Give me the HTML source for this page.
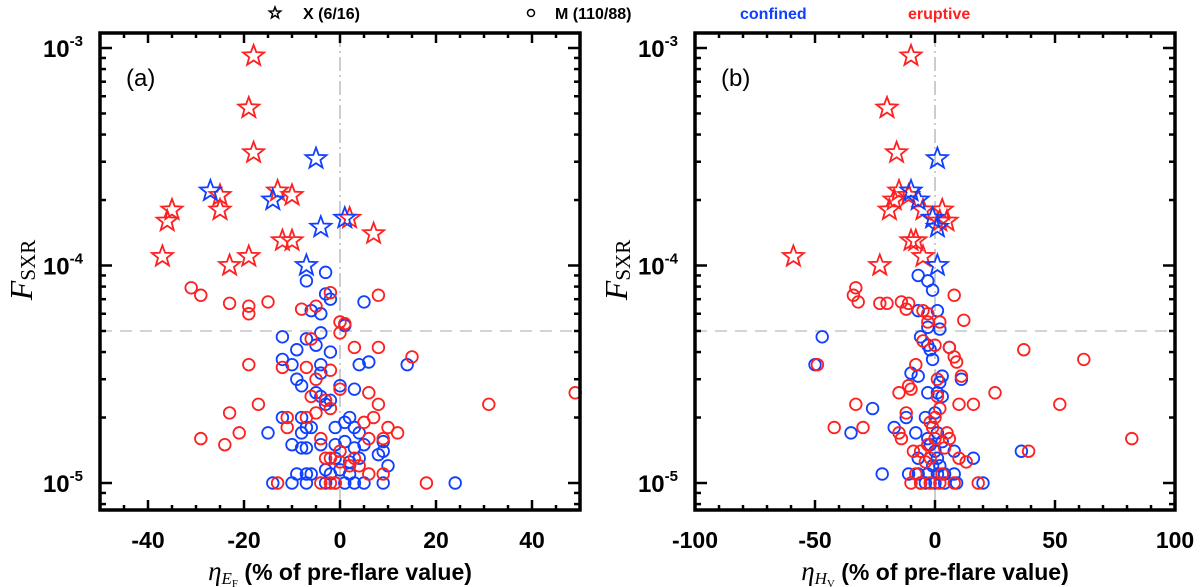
<!DOCTYPE html>
<html><head><meta charset="utf-8"><style>
html,body{margin:0;padding:0;background:#fff;}
svg{display:block;font-family:"Liberation Sans",sans-serif;}
</style></head><body>
<svg id="fig" width="1200" height="587" viewBox="0 0 1200 587">
<g font-weight="bold" font-size="16">
  <polygon points="" id="legstar" fill="none" stroke="#000" stroke-width="1.5"/>
  <text x="303" y="19">X (6/16)</text>
  <circle cx="531" cy="13" r="3.5" fill="none" stroke="#000" stroke-width="1.5"/>
  <text x="555" y="19">M (110/88)</text>
  <text x="740" y="19" fill="#1040ff">confined</text>
  <text x="908" y="19" fill="#ff2020">eruptive</text>
</g>
<g id="pa"></g>
<g id="pb"></g>
</svg>
<script>
// Panel a data: x = eta_EF (%), F in units of 1e-5
const aStarRedX=[-18,-19,-18,-35,-36,-37,-25,-25,-23,-19,-13,-10,-12,-10,2,7];
const aStarRedF=[92,53,33,18,16,11,21,18,10,11,22,21,13,13,16.5,14];
const aStarBlueX=[-27,-14,-5,-4,1,-7];
const aStarBlueF=[22,20,31,15,16.5,10];
const aCircRedX=[-31,-29,-23,-19,-19,-15,-8,-5,-2,0,1,0,3,-6,8,8,15,-19,-12,-7,-5,-2,0,-17,-23,-21,-29,-24,-11,-11,-7,-6,-3,-2,6,8,7,5,10,12,6,9,-3,-2,0,4,6,9,-4,-2,-1,-13,18,31,49,-4,0,3,-5,2];
const aCircRedF=[7.9,7.3,6.7,6.5,6.0,6.8,6.3,6.5,7.5,5.5,5.4,4.9,4.2,4.6,7.3,4.2,3.8,3.5,3.4,3.4,3.0,3.3,2.7,2.3,2.1,1.7,1.6,1.5,2.0,1.8,2.0,2.5,2.4,2.2,2.6,2.3,2.0,1.9,1.8,1.7,1.6,1.6,1.3,1.3,1.25,1.2,1.1,1.1,1.0,1.0,1.0,1.0,1.0,2.3,2.6,1.6,1.4,1.3,2.1,1.2];
const aCircBlueX=[-7,-3,-2,-3,-4,5,-6,1,-4,-12,-7,-5,-2,-9,-4,-12,-10,-4,4,6,14,-9,-8,0,3,-5,-4,-2,-3,-12,-8,-7,-15,-8,-6,-1,1,2,3,4,-10,-8,-7,-4,-1,1,3,5,9,9,8,10,-9,-7,-6,-3,-2,0,2,-14,-10,-7,-3,-1,1,3,5,9,24,4,-1,2];
const aCircBlueF=[8.5,9.3,7.0,7.4,6.0,6.8,6.2,5.3,4.9,4.7,4.6,4.3,4.0,4.1,3.5,3.7,3.5,3.2,3.5,3.6,3.5,3.0,2.8,2.8,2.7,2.6,2.5,2.4,2.3,2.0,2.0,1.8,1.7,1.7,1.8,1.8,1.9,2.0,1.8,1.7,1.5,1.45,1.45,1.5,1.5,1.55,1.45,1.5,1.55,1.4,1.35,1.2,1.1,1.1,1.1,1.15,1.1,1.15,1.1,1.0,1.0,1.0,1.0,1.0,1.0,1.0,1.0,1.0,1.0,1.3,1.3,1.25];
const aXTicks=[-40,-20,0,20,40];
// Panel b data: x = eta_HV (%)
const bStarRedX=[-10,-20,-16,-15,-17,-19,-11,-5,-10,-8,-59,-23,-5,3,5,2];
const bStarRedF=[92,53,33,22,20,18,21,18,13,13,11,10,11,18,16,16];
const bStarBlueX=[-10,-7,1,1,-1,1];
const bStarBlueF=[22,20,31,15,16.5,10];
const bCircRedX=[-33,-34,-32,-23,-20,-14,-12,-11,-5,-3,8,2,-3,12,-5,0,6,8,9,37,62,-49,1,11,-8,-11,-10,-15,25,-33,10,16,52,-12,-42,-30,-15,-14,5,6,82,-9,-6,39,10,13,-4,-2,-10,-6,-2,2,8,18,-8,3,0,-2,0,1,-3,4,-1,2];
const bCircRedF=[7.9,7.3,6.8,6.7,6.7,6.8,6.3,6.7,6.2,6.0,7.3,5.5,5.5,5.6,4.5,4.3,4.2,3.8,3.6,4.1,3.7,3.5,3.0,3.1,3.5,2.8,2.7,2.6,2.6,2.3,2.3,2.3,2.3,2.1,1.8,1.8,1.7,1.6,1.7,1.6,1.6,1.4,1.4,1.4,1.3,1.25,1.25,1.3,1.0,1.0,1.0,1.0,1.0,1.0,1.1,1.1,1.6,1.9,2.0,2.5,1.5,1.45,1.8,2.2];
const bCircBlueX=[-7,-3,-1,-7,1,-3,2,-47,-6,-3,-2,6,-50,-1,-10,-7,3,11,2,1,-3,3,-26,-12,-4,0,-17,-35,-8,-3,1,3,8,16,-7,36,-22,-11,-7,-3,1,4,8,-6,-4,0,4,9,20,0,2,-2,1,-1];
const bCircBlueF=[9.0,8.5,7.7,6.2,6.2,5.2,5.1,4.7,4.7,4.3,4.1,4.2,3.5,3.7,3.2,3.1,3.1,3.0,2.9,2.6,2.6,2.5,2.2,2.0,2.0,2.1,1.8,1.7,1.7,1.6,1.7,1.55,1.4,1.3,1.3,1.4,1.1,1.1,1.1,1.1,1.1,1.1,1.1,1.0,1.0,1.0,1.0,1.0,1.0,1.4,1.2,1.5,1.3,1.2];
const bXTicks=[-100,-50,0,50,100];

const NS='http://www.w3.org/2000/svg';
const RED='#ff2020', BLUE='#1040ff';
function mk(tag,parent,attrs){const e=document.createElementNS(NS,tag);for(const k in attrs)e.setAttribute(k,attrs[k]);parent.appendChild(e);return e;}
function starPts(cx,cy,R){const r=R*0.42;let p=[];for(let i=0;i<10;i++){const a=-Math.PI/2+i*Math.PI/5;const rr=i%2?r:R;p.push((cx+rr*Math.cos(a)).toFixed(1)+','+(cy+rr*Math.sin(a)).toFixed(1));}return p.join(' ');}
document.getElementById('legstar').setAttribute('points',starPts(275,13,6));

const TOP=33,BOT=510,Y3=48,DEC=217.5;
function yS(F5){return Y3+2*DEC-(Math.log10(F5)-0)*DEC;} // F5=1 -> 1e-5
function panel(g,L,R,xmin,xmax,xt,minorStep,label,xlabSub,xlabSub2,data){
  const xS=v=>L+(v-xmin)/(xmax-xmin)*(R-L);
  const h=mk('line',g,{x1:L,x2:R,y1:yS(5),y2:yS(5),stroke:'#bbb','stroke-width':1.3,'stroke-dasharray':'12,8'});
  
  
  const v=mk('line',g,{x1:xS(0),x2:xS(0),y1:TOP,y2:BOT,stroke:'#bbb','stroke-width':1.5,'stroke-dasharray':'14,4,2,4'});
  
  
  const tk=mk('g',g,{stroke:'#000','stroke-width':2.5});
  
  
  for(let x=xmin;x<=xmax+1e-9;x+=minorStep){const big=xt.includes(x);const len=big?10:5;const X=xS(x);
    mk('line',tk,{x1:X,x2:X,y1:BOT,y2:BOT-len});mk('line',tk,{x1:X,x2:X,y1:TOP,y2:TOP+len});}
  for(let e=-6;e<=-3;e++){for(let m=1;m<=9;m++){const F5=m*Math.pow(10,e+5);const Y=yS(F5);if(Y<TOP+1||Y>BOT-1)continue;const len=m==1?12:6;
    mk('line',tk,{x1:L,x2:L+len,y1:Y,y2:Y});mk('line',tk,{x1:R,x2:R-len,y1:Y,y2:Y});}}
  xt.forEach(t=>{const tl=mk('text',g,{x:xS(t),y:548,'text-anchor':'middle','font-size':23,'font-weight':'bold'});tl.textContent=t;
    
    });
  [-3,-4,-5].forEach(e=>{const Y=yS(Math.pow(10,e+5));const tl=mk('text',g,{x:L-17,y:Y+9,'text-anchor':'end','font-size':24,'font-weight':'bold'});
    tl.innerHTML='10<tspan dy="-11" font-size="15">'+e+'</tspan>';
    
    });
  const yt=mk('text',g,{transform:`translate(${L-68},270) rotate(-90)`,'text-anchor':'middle','font-family':'Liberation Serif,serif','font-size':32});
  yt.innerHTML='<tspan font-style="italic">F</tspan><tspan font-size="21" dy="3">SXR</tspan>';
  
  
  const xl=mk('text',g,{x:(L+R)/2,y:580,'text-anchor':'middle','font-size':23});
  xl.innerHTML='<tspan font-family="Liberation Serif,serif" font-style="italic" font-size="27">η</tspan><tspan font-family="Liberation Serif,serif" font-style="italic" font-size="17" dy="4">'+xlabSub+'</tspan><tspan font-family="Liberation Serif,serif" font-size="11" dy="3">'+xlabSub2+'</tspan><tspan dy="-7" font-weight="bold"> (% of pre-flare value)</tspan>';
  
  
  const pl=mk('text',g,{x:L+26,y:86,'font-size':24});pl.textContent=label;
  
  
  const cg=mk('g',g,{fill:'none','stroke-width':1.8});
  
  
  data.cb[0].forEach((x,i)=>{const c=mk('circle',cg,{cx:xS(x),cy:yS(data.cb[1][i]),r:5.8,stroke:BLUE});
    
    });
  data.cr[0].forEach((x,i)=>{const c=mk('circle',cg,{cx:xS(x),cy:yS(data.cr[1][i]),r:5.8,stroke:RED});
    
    });
  data.sr[0].forEach((x,i)=>{const s=mk('polygon',cg,{points:starPts(xS(x),yS(data.sr[1][i]),11),stroke:RED});
    
    });
  data.sb[0].forEach((x,i)=>{const s=mk('polygon',cg,{points:starPts(xS(x),yS(data.sb[1][i]),11),stroke:BLUE});
    
    });
  const fr=mk('rect',g,{x:L,y:TOP,width:R-L,height:BOT-TOP,fill:'none',stroke:'#000','stroke-width':3.5});
  
  
}
panel(document.getElementById('pa'),100,580,-50,50,aXTicks,5,'(a)','E','F',{sr:[aStarRedX,aStarRedF],sb:[aStarBlueX,aStarBlueF],cr:[aCircRedX,aCircRedF],cb:[aCircBlueX,aCircBlueF]});
panel(document.getElementById('pb'),695,1175,-100,100,bXTicks,10,'(b)','H','V',{sr:[bStarRedX,bStarRedF],sb:[bStarBlueX,bStarBlueF],cr:[bCircRedX,bCircRedF],cb:[bCircBlueX,bCircBlueF]});
</script>
</body></html>
